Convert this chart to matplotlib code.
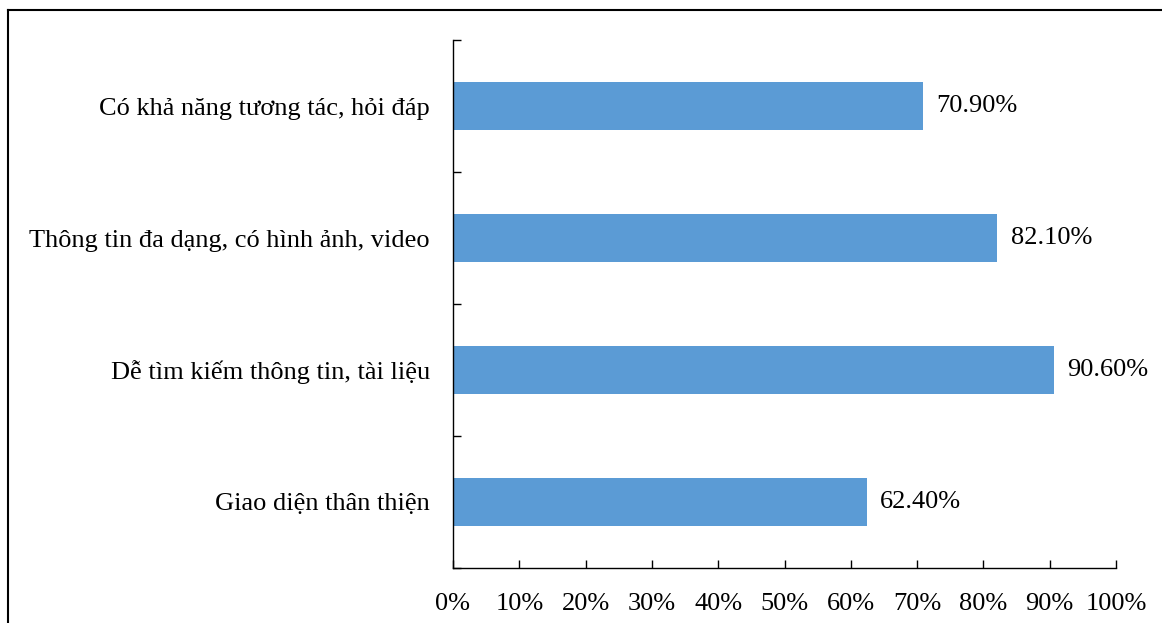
import matplotlib.pyplot as plt
from matplotlib.lines import Line2D

categories = ["Giao diện thân thiện",
              "Dễ tìm kiếm thông tin, tài liệu",
              "Thông tin đa dạng, có hình ảnh, video",
              "Có khả năng tương tác, hỏi đáp"]
values = [62.4, 90.6, 82.1, 70.9]
x_ticks = [0, 10, 20, 30, 40, 50, 60, 70, 80, 90, 100]

plt.rcParams['font.family'] = ['Liberation Serif', 'DejaVu Serif']
fs = 19

fig = plt.figure(figsize=(11.62, 6.23), dpi=100)
ax = fig.add_axes([453/1162, 55/623, (1116-453)/1162, (568-40)/623])

pos = list(range(len(categories)))
ax.barh(pos, values, height=0.36, color='#5B9BD5')
for p, v in zip(pos, values):
    ax.text(v + 2, p, f"{v:.2f}%", va='center', ha='left', fontsize=fs)

ax.set_xlim(0, 100)
ax.set_ylim(-0.5, len(categories) - 0.5)
ax.set_xticks(x_ticks, labels=[f"{t}%" for t in x_ticks])
ax.set_yticks(pos, labels=categories)
ax.set_yticks([i - 0.5 for i in range(len(categories) + 1)], minor=True)
ax.tick_params(axis='y', which='major', length=0, pad=16.5, labelsize=fs)
ax.tick_params(axis='y', which='minor', direction='in', length=6, width=1)
ax.tick_params(axis='x', direction='in', length=6, width=1, pad=18, labelsize=fs)
ax.spines['top'].set_visible(False)
ax.spines['right'].set_visible(False)
for s in ['left', 'bottom']:
    ax.spines[s].set_linewidth(1)

# outer frame lines (left and top)
fig.add_artist(Line2D([8/1162, 8/1162], [0, 1 - 10/623], color='black', lw=1.5, transform=fig.transFigure))
fig.add_artist(Line2D([8/1162, 1], [1 - 10/623, 1 - 10/623], color='black', lw=1.5, transform=fig.transFigure))

fig.savefig('out.png', dpi=100)
